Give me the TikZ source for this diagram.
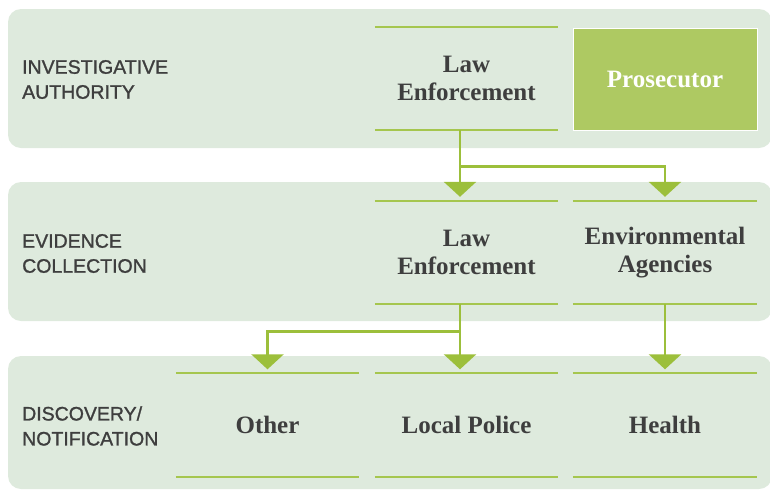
\documentclass[tikz,border=0pt]{standalone}
\usepackage{fontspec}
\setmainfont{Liberation Serif}
\setsansfont{Liberation Sans}
\newfontfamily\stagefont[FakeBold=1.2]{Liberation Sans}
\usetikzlibrary{arrows.meta}
\definecolor{bandfill}{HTML}{DEEADD}
\definecolor{rulegreen}{HTML}{A5C64E}
\definecolor{arrowgreen}{HTML}{9CBF3B}
\definecolor{prosfill}{HTML}{AEC962}
\definecolor{textgray}{HTML}{3E3E3E}

\begin{document}
\begin{tikzpicture}[x=1pt,y=1pt,
  band/.style={fill=bandfill,rounded corners=13pt},
  stage/.style={anchor=west,align=left,inner sep=0pt,text=textgray,font=\stagefont\fontsize{19.5}{25}\selectfont},
  cellrule/.style={draw=rulegreen,line width=2pt},
  cell/.style={minimum width=183pt,minimum height=103pt,inner sep=0pt,align=center,text=textgray,
    font=\bfseries\fontsize{25}{28}\selectfont,
    append after command={(\tikzlastnode.north west) edge[cellrule] (\tikzlastnode.north east)
      (\tikzlastnode.south west) edge[cellrule] (\tikzlastnode.south east)}},
  leadcell/.style={minimum width=184pt,minimum height=102pt,inner sep=0pt,align=center,fill=prosfill,
    draw=white,line width=0.8pt,text=white,font=\bfseries\fontsize{25}{28}\selectfont},
  flow/.style={draw=arrowgreen,line width=2.7pt,shorten >=4pt,-{Triangle[width=32pt,length=15pt]}}]
\useasboundingbox (0,0) rectangle (770,-491);
\fill[band] (8,-9) rectangle (772,-148);
\fill[band] (8,-182) rectangle (772,-321);
\fill[band] (8,-356) rectangle (772,-489);

\node[stage] (invest) at (22,-79.5) {INVESTIGATIVE\\AUTHORITY};
\node[stage] (evid) at (22,-253.5) {EVIDENCE\\COLLECTION};
\node[stage] (disc) at (22,-426) {DISCOVERY/\\NOTIFICATION};

\node[cell] (lawA) at (466.5,-78.5) {Law\\Enforcement};
\node[leadcell] (pros) at (665,-79) {Prosecutor};
\node[cell] (lawB) at (466.5,-252.5) {Law\\Enforcement};
\node[cell,minimum width=184pt] (envB) at (665,-252.5) {Environmental\\Agencies};
\node[cell] (other) at (267.5,-425) {Other};
\node[cell] (police) at (466.5,-425) {Local Police};
\node[cell,minimum width=184pt] (health) at (665,-425) {Health};

\draw[flow] ([xshift=-6.5pt]lawA.south) -- ([xshift=-6.5pt]lawB.north);
\draw[flow] ([xshift=-6.5pt]lawA.south) -- ++(0,-36) -| (envB.north);
\draw[flow] ([xshift=-6.5pt]lawB.south) -- ([xshift=-6.5pt]police.north);
\draw[flow] ([xshift=-6.5pt]lawB.south) -- ++(0,-27) -| (other.north);
\draw[flow] (envB.south) -- (health.north);
\end{tikzpicture}
\end{document}
